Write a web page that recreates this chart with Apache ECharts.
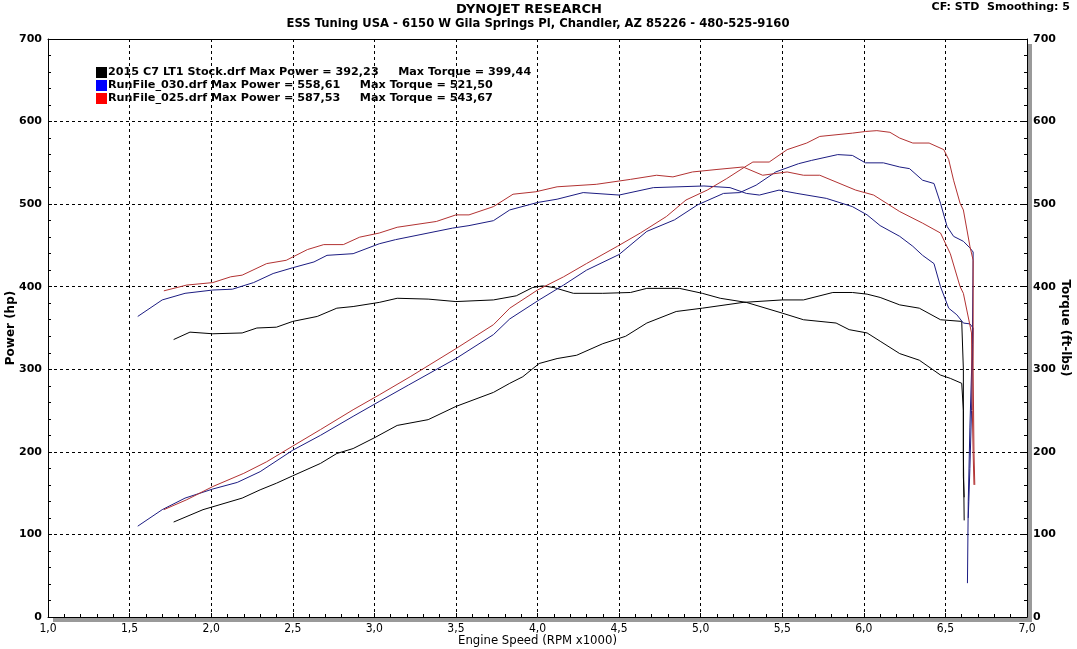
<!DOCTYPE html>
<html>
<head>
<meta charset="utf-8">
<script src="https://cdn.jsdelivr.net/npm/echarts@6/dist/echarts.min.js"></script>
<style>
  html, body { margin: 0; padding: 0; background: #fff; }
  #main { width: 1077px; height: 649px; }
</style>
</head>
<body>
<div id="main"></div>
<script>
// run names and the max values shown in the legend
var runNames = ["2015 C7 LT1 Stock.drf", "RunFile_030.drf", "RunFile_025.drf"];
var maxPower = ["392,23", "558,61", "587,53"];
var maxTorque = ["399,44", "521,50", "543,67"];

// [rpm x1000, hp]
var stockPower = [[1.77,115],[1.95,130],[2.19,144],[2.30,154],[2.40,162],[2.50,171],[2.67,186],[2.77,198],[2.87,204],[3.00,217],[3.14,232],[3.33,239],[3.50,255],[3.73,272],[3.83,283],[3.91,291],[4.01,307],[4.12,313],[4.24,317],[4.40,331],[4.54,340],[4.67,356],[4.85,370],[5.01,374],[5.26,381],[5.50,384],[5.63,384],[5.81,393],[5.93,393],[6.02,391],[6.10,387],[6.22,378],[6.34,374],[6.47,360],[6.60,358],[6.61,300],[6.61,200],[6.615,117]];
// [rpm x1000, ft-lbs]
var stockTorque = [[1.77,336],[1.87,345],[2.01,343],[2.19,344],[2.28,350],[2.40,351],[2.50,358],[2.65,364],[2.77,374],[2.87,376],[3.03,381],[3.14,386],[3.33,385],[3.50,382],[3.73,384],[3.87,389],[3.97,399],[4.03,401],[4.10,399],[4.22,392],[4.40,392],[4.57,393],[4.67,398],[4.87,398],[5.01,392],[5.12,386],[5.28,381],[5.50,368],[5.63,360],[5.83,356],[5.91,348],[6.02,344],[6.10,334],[6.22,319],[6.34,311],[6.47,293],[6.53,289],[6.60,283],[6.61,250],[6.61,170],[6.615,145]];

var run030Power = [[1.55,110],[1.70,130],[1.84,144],[2.01,155],[2.16,163],[2.30,176],[2.50,202],[2.67,220],[2.87,243],[3.03,261],[3.21,281],[3.50,313],[3.73,342],[3.83,361],[4.01,384],[4.16,402],[4.30,420],[4.50,439],[4.67,467],[4.84,481],[4.98,499],[5.14,513],[5.24,514],[5.34,523],[5.46,539],[5.60,549],[5.68,553],[5.84,560],[5.93,559],[6.01,550],[6.12,550],[6.22,545],[6.28,543],[6.36,529],[6.43,525],[6.47,501],[6.51,473],[6.55,461],[6.61,455],[6.65,447],[6.67,442],[6.665,330],[6.65,230],[6.64,140],[6.635,41]];
var run030Torque = [[1.55,364],[1.70,384],[1.84,392],[2.01,396],[2.13,397],[2.26,405],[2.38,416],[2.50,423],[2.63,430],[2.71,438],[2.87,440],[3.03,452],[3.13,457],[3.28,463],[3.48,471],[3.58,474],[3.73,480],[3.83,493],[4.00,502],[4.12,506],[4.28,514],[4.50,511],[4.71,520],[5.02,522],[5.18,520],[5.28,513],[5.36,511],[5.48,517],[5.59,513],[5.77,507],[5.93,497],[6.02,487],[6.10,474],[6.22,461],[6.30,449],[6.36,438],[6.43,428],[6.47,400],[6.52,374],[6.57,366],[6.61,356],[6.65,355],[6.67,350],[6.66,250],[6.65,180],[6.64,120]];

var run025Power = [[1.71,130],[1.85,142],[2.01,158],[2.20,174],[2.34,188],[2.50,207],[2.67,227],[2.87,251],[3.03,269],[3.22,291],[3.50,325],[3.73,354],[3.83,374],[4.00,396],[4.16,412],[4.30,428],[4.49,449],[4.63,465],[4.79,485],[4.91,505],[5.04,517],[5.16,531],[5.27,545],[5.32,551],[5.42,551],[5.53,566],[5.65,574],[5.73,582],[5.93,586],[6.01,588],[6.08,589],[6.16,587],[6.22,580],[6.30,574],[6.40,574],[6.49,566],[6.52,554],[6.55,529],[6.59,501],[6.61,493],[6.65,449],[6.67,432],[6.67,300],[6.675,200],[6.68,160]];
var run025Torque = [[1.71,395],[1.85,402],[2.01,405],[2.12,412],[2.19,414],[2.34,428],[2.46,432],[2.59,445],[2.69,451],[2.81,451],[2.91,460],[3.03,465],[3.14,472],[3.38,479],[3.50,487],[3.58,487],[3.73,497],[3.85,512],[3.99,515],[4.12,521],[4.36,524],[4.57,530],[4.73,535],[4.83,533],[4.95,539],[5.10,542],[5.26,545],[5.38,535],[5.53,539],[5.63,535],[5.73,535],[5.95,517],[6.06,511],[6.22,491],[6.36,477],[6.47,465],[6.53,440],[6.59,400],[6.61,392],[6.66,344],[6.665,250],[6.67,198],[6.675,160]];

var lineColors = ["#000000", "#1c1c82", "#b23232"];
var legendColors = ["#000000", "#0000ff", "#ff0000"];
var runData = [[stockPower, stockTorque], [run030Power, run030Torque], [run025Power, run025Torque]];

var chartDom = document.getElementById("main");
var myChart = echarts.init(chartDom);

var boldFont = "DejaVu Sans";
var condFont = "DejaVu Sans Condensed";

var series = [];
runData.forEach(function (pair, i) {
  pair.forEach(function (d, j) {
    series.push({
      name: runNames[i],
      type: "line",
      yAxisIndex: j,
      data: d,
      showSymbol: false,
      animation: false,
      lineStyle: { color: lineColors[i], width: 1 },
      itemStyle: { color: legendColors[i] },
      z: 3 + i,
    });
  });
});

function yAxisDef(pos, name) {
  return {
    type: "value",
    position: pos,
    min: 0,
    max: 700,
    interval: 100,
    name: name,
    nameLocation: "middle",
    nameGap: pos === "left" ? 31 : 32,
    nameMoveOverlap: false,
    nameRotate: pos === "left" ? 90 : -90,
    nameTextStyle: { fontFamily: boldFont, fontWeight: "bold", fontSize: 12, color: "#000" },
    axisLine: { show: true, lineStyle: { color: "#000", width: 1 } },
    axisTick: { show: true, inside: true, length: 4, lineStyle: { color: "#000" } },
    minorTick: { show: true, splitNumber: 5, length: 3, lineStyle: { color: "#000" } },
    axisLabel: {
      fontFamily: boldFont,
      fontWeight: "bold",
      fontSize: 11,
      color: "#000",
      margin: 6,
    },
    splitLine: pos === "left" ? { show: true, lineStyle: { color: "#000", type: [3, 3], width: 1 } } : { show: false },
  };
}

var option = {
  backgroundColor: "#fff",
  animation: false,
  grid: {
    left: 48,
    right: 50,
    top: 39,
    bottom: 32,
    containLabel: false,
    outerBoundsMode: "none",
    show: true,
    backgroundColor: "#fff",
    borderWidth: 0,
    shadowColor: "#9a9a9a",
    shadowOffsetX: 5,
    shadowOffsetY: 5,
    shadowBlur: 0,
  },
  legend: {
    orient: "vertical",
    left: 91,
    top: 62,
    itemWidth: 11,
    itemHeight: 11,
    itemGap: 2,
    icon: "rect",
    selectedMode: false,
    data: runNames,
    formatter: function (name) {
      var i = runNames.indexOf(name);
      return name + " Max Power = " + maxPower[i] + "     Max Torque = " + maxTorque[i];
    },
    textStyle: { fontFamily: boldFont, fontWeight: "bold", fontSize: 11.2, color: "#000", padding: [0, 0, 0, -4] },
  },
  xAxis: [
    {
      type: "value",
      min: 1,
      max: 7,
      interval: 0.5,
      name: "Engine Speed (RPM x1000)",
      nameLocation: "middle",
      nameGap: 17,
      nameMoveOverlap: false,
      nameTextStyle: { fontFamily: condFont, fontSize: 13, color: "#000" },
      axisLine: { show: true, onZero: false, lineStyle: { color: "#000", width: 1 } },
      axisTick: { show: true, inside: true, length: 4, lineStyle: { color: "#000" } },
      minorTick: { show: true, splitNumber: 5, length: 3, lineStyle: { color: "#000" } },
      axisLabel: {
        fontFamily: condFont,
        fontSize: 12,
        color: "#000",
        margin: 6,
        formatter: function (v) {
          return v.toFixed(1).replace(".", ",");
        },
      },
      splitLine: { show: true, lineStyle: { color: "#000", type: [3, 3], width: 1 } },
    },
    {
      // top frame line only
      type: "value",
      position: "top",
      min: 1,
      max: 7,
      axisLine: { show: true, onZero: false, lineStyle: { color: "#000", width: 1 } },
      axisTick: { show: false },
      axisLabel: { show: false },
      splitLine: { show: false },
    },
  ],
  yAxis: [yAxisDef("left", "Power (hp)"), yAxisDef("right", "Torque (ft-lbs)")],
  graphic: [
    {
      type: "text",
      x: 529,
      y: 3,
      style: { text: "DYNOJET RESEARCH", font: "bold 13px " + boldFont, fill: "#000", textAlign: "center" },
    },
    {
      type: "text",
      x: 538,
      y: 18,
      style: {
        text: "ESS Tuning USA - 6150 W Gila Springs Pl, Chandler, AZ 85226 - 480-525-9160",
        font: "bold 11.6px " + boldFont,
        fill: "#000",
        textAlign: "center",
      },
    },
    {
      type: "text",
      x: 1070,
      y: 2,
      style: { text: "CF: STD  Smoothing: 5", font: "bold 11px " + boldFont, fill: "#000", textAlign: "right" },
    },
  ],
  series: series,
};

myChart.setOption(option);
</script>
</body>
</html>
